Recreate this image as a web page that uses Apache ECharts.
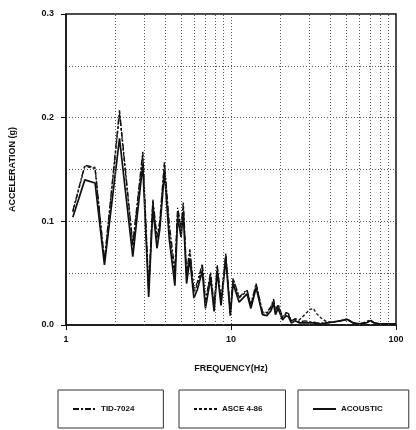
<!DOCTYPE html>
<html>
<head>
<meta charset="utf-8">
<script src="https://cdn.jsdelivr.net/npm/echarts@6/dist/echarts.min.js"></script>
<style>html,body{margin:0;padding:0;background:#fff;}#c{width:416px;height:430px;}</style>
</head>
<body>
<div id="c"></div>
<script>
const freqs = [1.1, 1.3, 1.5, 1.71, 2.11, 2.54, 2.92, 3.17, 3.36, 3.56, 3.7, 3.95, 4.23, 4.57, 4.75, 4.98, 5.14, 5.38, 5.63, 5.96, 6.25, 6.7, 7.0, 7.52, 7.9, 8.25, 8.7, 9.3, 9.9, 10.3, 11.2, 12.5, 13.2, 14.2, 15.5, 16.5, 17.5, 18.1, 18.6, 19.3, 20.5, 21.6, 22.3, 23.2, 24.5, 26, 28, 30, 31.6, 33, 35, 38, 42, 46, 50.5, 55, 60, 66, 69.6, 74, 80, 90, 100];
const tid7024 = [0.110, 0.154, 0.152, 0.062, 0.207, 0.078, 0.167, 0.035, 0.121, 0.085, 0.100, 0.157, 0.097, 0.052, 0.113, 0.095, 0.118, 0.050, 0.073, 0.034, 0.041, 0.059, 0.022, 0.051, 0.018, 0.058, 0.024, 0.069, 0.013, 0.045, 0.027, 0.034, 0.020, 0.040, 0.013, 0.012, 0.018, 0.025, 0.014, 0.020, 0.008, 0.012, 0.011, 0.004, 0.006, 0.003, 0.004, 0.003, 0.003, 0.002, 0.002, 0.002, 0.003, 0.004, 0.006, 0.002, 0.001, 0.003, 0.005, 0.002, 0.001, 0.001, 0.001];
const asce486 = [0.109, 0.153, 0.151, 0.061, 0.204, 0.076, 0.164, 0.033, 0.119, 0.083, 0.097, 0.155, 0.090, 0.047, 0.110, 0.092, 0.115, 0.047, 0.070, 0.031, 0.039, 0.057, 0.020, 0.049, 0.016, 0.056, 0.022, 0.067, 0.012, 0.044, 0.026, 0.033, 0.019, 0.039, 0.012, 0.011, 0.017, 0.024, 0.013, 0.019, 0.007, 0.011, 0.010, 0.004, 0.006, 0.005, 0.010, 0.015, 0.016, 0.011, 0.007, 0.003, 0.003, 0.004, 0.005, 0.002, 0.001, 0.002, 0.004, 0.002, 0.001, 0.001, 0.001];
const acoustic = [0.104, 0.140, 0.137, 0.058, 0.180, 0.066, 0.155, 0.027, 0.113, 0.074, 0.092, 0.148, 0.082, 0.038, 0.104, 0.085, 0.108, 0.040, 0.064, 0.026, 0.034, 0.052, 0.016, 0.045, 0.013, 0.052, 0.019, 0.064, 0.009, 0.040, 0.022, 0.030, 0.016, 0.036, 0.010, 0.009, 0.014, 0.021, 0.010, 0.016, 0.005, 0.009, 0.008, 0.002, 0.004, 0.002, 0.002, 0.002, 0.002, 0.001, 0.001, 0.002, 0.003, 0.004, 0.0055, 0.002, 0.001, 0.002, 0.004, 0.002, 0.001, 0.001, 0.001];
const minorGridFreqs = [2, 3, 4, 5, 6, 7, 8, 9, 20, 30, 40, 50, 60, 70, 80, 90];
const seriesNames = ['TID-7024', 'ASCE 4-86', 'ACOUSTIC'];
const xTickLabels = ['1', '10', '100'];

const zip = (vals) => freqs.map((f, i) => [f, vals[i]]);
const FONT = 'Liberation Sans, Arial, sans-serif';
const INK = '#111';

function legendBox(name, left, rightPad) {
  return {
    data: [name], left: left, top: 390, orient: 'horizontal',
    padding: [15, rightPad, 15, 14], itemWidth: 23, itemHeight: 8,
    borderColor: '#333', borderWidth: 1, selectedMode: false,
    itemStyle: {opacity: 0},
    textStyle: {fontFamily: FONT, fontSize: 8, fontWeight: 'bold', color: INK}
  };
}

const chart = echarts.init(document.getElementById('c'), null, {renderer: 'canvas'});
chart.setOption({
  animation: false,
  backgroundColor: '#fff',
  grid: {left: 65, right: 20, top: 14, bottom: 105, show: true, borderColor: INK, borderWidth: 1.5},
  legend: [
    legendBox(seriesNames[0], 58, 29),
    legendBox(seriesNames[1], 179, 23),
    legendBox(seriesNames[2], 298, 26)
  ],
  xAxis: {
    type: 'log', logBase: 10, min: 1, max: 100,
    name: 'FREQUENCY(Hz)', nameLocation: 'middle', nameGap: 39,
    nameTextStyle: {fontFamily: FONT, fontSize: 9, fontWeight: 'bold', color: INK},
    axisLine: {lineStyle: {color: INK, width: 1.5}},
    axisTick: {show: true, inside: false, length: 5, lineStyle: {color: INK}},
    axisLabel: {margin: 10, fontFamily: FONT, fontSize: 9, fontWeight: 'bold', color: INK,
      formatter: (v) => { const s = String(Math.round(v)); return xTickLabels.includes(s) ? s : ''; }},
    splitLine: {show: true, lineStyle: {color: '#555', type: [1, 2], width: 1}}
  },
  yAxis: {
    type: 'value', min: 0, max: 0.3, interval: 0.1,
    name: 'ACCELERATION (g)', nameLocation: 'middle', nameGap: 49, nameRotate: 90,
    nameTextStyle: {fontFamily: FONT, fontSize: 9, fontWeight: 'bold', color: INK},
    axisLine: {show: true, lineStyle: {color: INK, width: 1.5}},
    axisTick: {show: true, inside: false, length: 5, lineStyle: {color: INK}},
    axisLabel: {margin: 12, fontFamily: FONT, fontSize: 9, fontWeight: 'bold', color: INK,
      formatter: (v) => v.toFixed(1)},
    splitLine: {show: true, lineStyle: {color: '#555', type: [1, 2], width: 1}},
    minorTick: {show: false, splitNumber: 2},
    minorSplitLine: {show: true, lineStyle: {color: '#555', type: [1, 2], width: 1}}
  },
  series: [
    {
      name: seriesNames[0], type: 'line', data: zip(tid7024), symbol: 'none',
      lineStyle: {color: INK, width: 1.4, type: [6, 2, 2, 2]}, itemStyle: {color: INK}, z: 3
    },
    {
      name: seriesNames[1], type: 'line', data: zip(asce486), symbol: 'none',
      lineStyle: {color: INK, width: 1.3, type: [3, 2]}, itemStyle: {color: INK}, z: 3
    },
    {
      name: seriesNames[2], type: 'line', data: zip(acoustic), symbol: 'none',
      lineStyle: {color: INK, width: 1.7, type: 'solid'}, itemStyle: {color: INK}, z: 4,
      markLine: {
        silent: true, symbol: 'none', label: {show: false},
        lineStyle: {color: '#555', type: [1, 2], width: 1},
        data: minorGridFreqs.map((f) => ({xAxis: f}))
      }
    }
  ]
});
</script>
</body>
</html>
